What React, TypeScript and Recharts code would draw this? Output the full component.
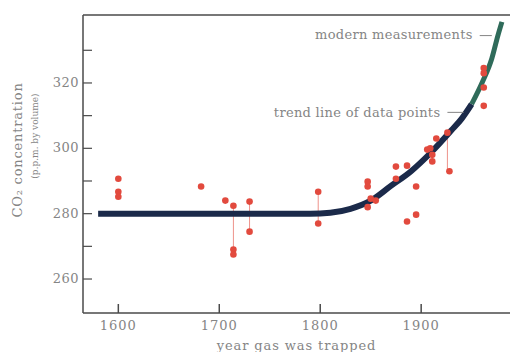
import {
  ComposedChart,
  Line,
  Scatter,
  XAxis,
  YAxis,
  ReferenceLine,
  ReferenceDot,
  Label,
} from "recharts";

// ice-core samples: year the gas was trapped and CO2 (p.p.m.)
const sampleYears = [
  1600, 1600, 1600, 1682, 1706, 1714, 1714, 1714, 1730, 1730,
  1798, 1798, 1847, 1847, 1847, 1850, 1855, 1875, 1875, 1886,
  1886, 1895, 1895, 1906, 1909, 1911, 1911, 1915, 1926, 1928,
  1962, 1962, 1962, 1962,
];
const sampleCO2 = [
  290.7, 286.7, 285.2, 288.3, 284, 282.4, 269, 267.5, 283.7, 274.5,
  286.7, 277, 289.8, 288.3, 282, 284.6, 284, 294.4, 290.7, 294.7,
  277.6, 288.3, 279.7, 299.6, 300, 298, 296, 303, 304.8, 293,
  324.6, 323, 318.6, 313,
];

// vertical spread lines between paired samples
const rangeYears = [1714, 1730, 1798, 1926];
const rangeLow = [267.5, 274.5, 277, 293];
const rangeHigh = [282.4, 283.7, 286.7, 304.8];

// trend line of the data points
const trendYears = [1580, 1700, 1790, 1810, 1830, 1850, 1870, 1890, 1910, 1930, 1940, 1950];
const trendCO2 = [280, 280, 280, 280.3, 281.5, 284, 288.5, 293, 298.8, 305.5, 309, 313.5];

// modern measurements
const modernYears = [1950, 1961, 1970, 1976, 1980];
const modernCO2 = [313.5, 320.5, 327.5, 334.5, 338.7];

const yearTicks = [1600, 1700, 1800, 1900];
const co2Ticks = [260, 270, 280, 290, 300, 310, 320, 330];

const points = sampleYears.map((year, i) => ({ year, co2: sampleCO2[i] }));
const trend = trendYears.map((year, i) => ({ year, co2: trendCO2[i] }));
const modern = modernYears.map((year, i) => ({ year, co2: modernCO2[i] }));

const AXIS = "#4a4a4a";
const TEXT = "#858585";
const RED = "#e24a3e";
const FONT = "'DejaVu Serif', serif";

function XTick(props: any) {
  const { x, y, payload } = props;
  return (
    <g>
      <line x1={x} x2={x} y1={y} y2={y - 9} stroke={AXIS} strokeWidth={1.5} />
      <text x={x} y={y + 17} textAnchor="middle" fill={TEXT} fontSize={13} fontFamily={FONT} letterSpacing={1}>
        {payload.value}
      </text>
    </g>
  );
}

function YTick(props: any) {
  const { x, y, payload } = props;
  return (
    <g>
      <line x1={x} x2={x + 9} y1={y} y2={y} stroke={AXIS} strokeWidth={1.2} />
      {payload.value % 20 === 0 && (
        <text x={x - 4} y={y + 4} textAnchor="end" fill={TEXT} fontSize={13} fontFamily={FONT} letterSpacing={0.5}>
          {payload.value}
        </text>
      )}
    </g>
  );
}

function YTitle(props: any) {
  const { viewBox } = props;
  const cy = viewBox.y + 135;
  return (
    <g fill={TEXT} fontFamily={FONT}>
      <text x={22} y={cy} transform={`rotate(-90 22 ${cy})`} textAnchor="middle" fontSize={13} letterSpacing={0.8}>
        CO₂ concentration
      </text>
      <text x={38} y={cy - 14} transform={`rotate(-90 38 ${cy - 14})`} textAnchor="middle" fontSize={9}>
        (p.p.m. by volume)
      </text>
    </g>
  );
}

function Dot(props: any) {
  return <circle cx={props.cx} cy={props.cy} r={3.3} fill={RED} />;
}

export default function App() {
  return (
    <div style={{ position: "fixed", left: 0, top: 0, background: "#fff" }}>
      <ComposedChart width={510} height={352} margin={{ top: 15, right: 0, left: 0, bottom: 0 }}>
        <XAxis
          dataKey="year"
          type="number"
          domain={[1565, 1988]}
          ticks={yearTicks}
          tick={<XTick />}
          tickSize={0}
          tickMargin={0}
          height={39}
          stroke={AXIS}
          strokeWidth={1.5}
          allowDataOverflow
        >
          <Label
            value="year gas was trapped"
            position="insideBottom"
            offset={2}
            fill={TEXT}
            fontSize={13}
            fontFamily={FONT}
            letterSpacing={0.9}
          />
        </XAxis>
        <YAxis
          type="number"
          domain={[249.6, 340.8]}
          ticks={co2Ticks}
          tick={<YTick />}
          tickSize={0}
          tickMargin={0}
          width={83}
          stroke={AXIS}
          strokeWidth={1.5}
          allowDataOverflow
          label={<Label content={<YTitle />} />}
        />
        <ReferenceLine y={340.8} stroke={AXIS} strokeWidth={1.5} />

        {rangeYears.map((year, i) => (
          <ReferenceLine
            key={year}
            segment={[
              { x: year, y: rangeLow[i] },
              { x: year, y: rangeHigh[i] },
            ]}
            stroke={RED}
            strokeOpacity={0.6}
            strokeWidth={1}
          />
        ))}

        <Line
          data={trend}
          dataKey="co2"
          type="monotone"
          stroke="#1b2a4a"
          strokeWidth={6}
          dot={false}
          isAnimationActive={false}
        />
        <Line
          data={modern}
          dataKey="co2"
          type="monotone"
          stroke="#2f6b5a"
          strokeWidth={5}
          dot={false}
          isAnimationActive={false}
        />
        <Scatter data={points} dataKey="co2" shape={<Dot />} isAnimationActive={false} />

        <ReferenceLine
          segment={[
            { x: 1926, y: 311 },
            { x: 1942, y: 311 },
          ]}
          stroke={TEXT}
          strokeWidth={1}
        />
        <ReferenceDot
          x={1921}
          y={311}
          r={0}
          label={{ value: "trend line of data points", position: "left", offset: 2, fill: TEXT, fontSize: 13, fontFamily: FONT, letterSpacing: 0.3 }}
        />
        <ReferenceLine
          segment={[
            { x: 1958, y: 334.5 },
            { x: 1970, y: 334.5 },
          ]}
          stroke={TEXT}
          strokeWidth={1}
        />
        <ReferenceDot
          x={1953}
          y={335}
          r={0}
          label={{ value: "modern measurements", position: "left", offset: 2, fill: TEXT, fontSize: 13, fontFamily: FONT, letterSpacing: 0.3 }}
        />
      </ComposedChart>
    </div>
  );
}
